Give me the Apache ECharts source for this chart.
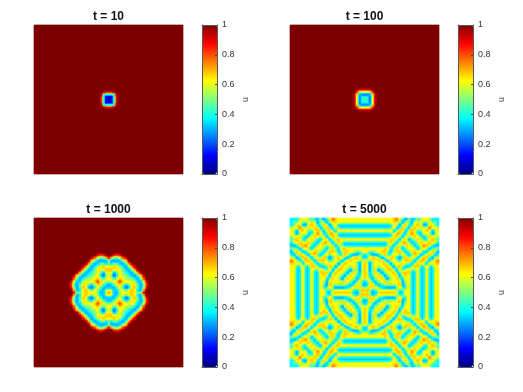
<!DOCTYPE html>
<html><head><meta charset="utf-8">
<style>html,body{margin:0;padding:0;background:#fff}#c{width:523px;height:392px}</style>
<script src="https://cdn.jsdelivr.net/npm/echarts@6/dist/echarts.min.js"></script>
</head><body><div id="c"></div>
<script>
// Field values: one character per cell, a base-36 index into uLevels.
// Each panel has four-fold mirror symmetry, so one triangle of cells is listed.
const titles = ['t = 10', 't = 100', 't = 1000', 't = 5000'];
const colorbarName = 'u';
const jet = ['#00007f','#0000ff','#007fff','#00ffff','#7fff7f','#ffff00','#ff7f00','#ff0000','#7f0000'];
const uLevels = [0,.04,.08,.14,.2,.26,.31,.34,.37,.41,.45,.49,.53,.62,.67,.74,.8,.86,.91,.95,1];

// rows counted outward from the centre of the panel
const fieldT10 = ['2238ei','238ei','38fj','agj','hk'];
const fieldT100 = ['a9758dhj','9758dhj','758dhj','69ehj','cfik','hj','k'];
const fieldT1000 = [
'fda7668bddddddeeedcbbcfik',
'da7679cddcccdeeedb867bfik',
'8668acdca88bdeedb866aehj',
'68acdca7557bdeeca768cfi',
'abddca7557bdeeda767behj',
'deedca88acdedca767behj',
'efeddccddedca8768cehj',
'gfedddddddca767adgi',
'fedddcccca8668cfhj',
'ddcccbba8668begi',
'dcbba98667adfhj',
'ca987667acegi',
'987667acegi',
'7668bdfhj',
'68bdfhj',
'bdfhj',
'fhj',
'ij'
];
// rows counted inward from the corner of the panel
const fieldT5000 = [
'88888acdddddcaac867aa767acdeffeddddddddddddddddddd',
'8888acdddddcaac867aca767aceffeddddddddddddddddddd',
'aaacddcccddccdc868bda779cdeeedddddddddddddddddddd',
'ccddc978bddedda68cdda77acdddddccccccccccccccccc',
'dedc766adeeedc87adedc868cddca88888888888888888',
'eec878bdeeedca68cdedb77bdda766666666666666666',
'fedccdedddeeda78cdec968cdca88888888888888888',
'feddddccdeeec87adeec97acddccccccccccccccccc',
'eddca9acdeeec87adeedb78cdddddddddddddddddd',
'ddc977adeeedb77bdeeda8bdccccccccccccccccc',
'da77acdefedc87adefeddca88888888888888888',
'77acdeeeedda77adeeeda766666666666666666',
'acddeddccdda78cdeedca88888888888888888',
'ddddcb99cdeb78cdedddccccccccccccccccc',
'edcb977bdeda78cdeeeddddddddddddddddd',
'ca977acdeeda78cdeeddccccccccccccccc',
'977acdefedca78cdedca88888888888888',
'7acdeeedddc978cdda766666666666666',
'cddedcbbdec978cdca88888888888888',
'dddca88cdec978cddcccccccccccccc',
'dca87acdedb78cdeeddddddddddddd',
'c978bdeeda87adeeedddddddddddd',
'78bdeeedc978cdeeedddcca9acdd',
'cdeeddddc97adeeddcba8767acc',
'dcbcdddca8adedca876667ac98',
'878bdeddccddca7679bccdc86',
'669cdeeddc9768bddeeddc87',
'7acdeedc967acdeeeeeddcb',
'cdddc977acdeeddddcbbcd',
'ddc978bdeeddddca77ade',
'c968cdeeddddddc869de',
'68cdeedddddddc869de',
'cdeedddcccdec869de',
'eeddccaabdec869de',
'eddca768cec869de',
'dca7669cdc86ade',
'a768bdedc87ade',
'78bdedca77cde',
'cdeddca78cde',
'eddca768cde',
'dcc977bddc',
'ca77addca',
'769cdc97',
'9cdeb86',
'dedb76',
'edc87',
'edcb',
'eed',
'ee',
'd'
];
const DATA_N = 100, N = 149;
const cells = Array.from({length: N}, (_, i) => i);
const fold = i => { const d = Math.floor(i * DATA_N / N); return d < DATA_N / 2 ? d : DATA_N - 1 - d; };
function read(tri, a, b, fallback) {
  const lo = Math.min(a, b), hi = Math.max(a, b);
  const ch = tri[lo] && tri[lo][hi - lo];
  const n = ch === undefined ? NaN : parseInt(ch, 36);
  return uLevels[isNaN(n) ? fallback : Math.min(n, 20)];
}
function expand(tri, fromCentre, fallback) {
  const out = [];
  for (const y of cells) for (const x of cells) {
    const fx = fold(x), fy = fold(y);
    out.push([x, y, fromCentre ? read(tri, DATA_N/2-1-fx, DATA_N/2-1-fy, fallback) : read(tri, fx, fy, fallback)]);
  }
  return out;
}
const fields = [expand(fieldT10, true, 20), expand(fieldT100, true, 20), expand(fieldT1000, true, 20), expand(fieldT5000, false, 13)];
const px = [34, 290], cbx = [202, 458], py = [25, 218], S = 149, CW = 15;
const grid = [], xAxis = [], yAxis = [], series = [], visualMap = [], title = [];
const font = 'Liberation Sans';
const boxLine = {show: true, onZero: false, lineStyle: {color: '#5a5a5a', width: 1}};
for (let i = 0; i < 4; i++) {
  const L = px[i % 2], T = py[i >> 1];
  grid.push({left: L, top: T, width: S, height: S});
  xAxis.push({type: 'category', data: cells, gridIndex: i, show: false});
  yAxis.push({type: 'category', data: cells, gridIndex: i, inverse: true, show: false});
  series.push({type: 'heatmap', xAxisIndex: i, yAxisIndex: i, data: fields[i], silent: true, progressive: 0, animation: false, emphasis: {disabled: true}});
  visualMap.push({type: 'continuous', seriesIndex: i, min: 0, max: 1, show: true, calculable: false, hoverLink: false, realtime: false,
    left: cbx[i % 2], top: T, itemWidth: CW, itemHeight: S, padding: 0, text: ['', ''], textGap: 0, inRange: {color: jet}});
  title.push({text: titles[i], left: L + S / 2, top: T - 15, textAlign: 'center', padding: 0,
    textStyle: {fontFamily: font, fontSize: 12, fontWeight: 'bold', color: '#111', lineHeight: 13}});
}
for (let i = 0; i < 4; i++) {
  const g = grid.length, T = py[i >> 1];
  grid.push({left: cbx[i % 2], top: T, width: CW, height: S, z: 20});
  const xBase = {type: 'value', gridIndex: g, min: 0, max: 1, z: 20, axisTick: {show: false}, axisLabel: {show: false}, splitLine: {show: false}, axisLine: boxLine};
  xAxis.push(Object.assign({position: 'bottom'}, xBase));
  xAxis.push(Object.assign({position: 'top'}, xBase));
  const yBase = {type: 'value', gridIndex: g, min: 0, max: 1, interval: 0.2, z: 20, splitLine: {show: false}, axisLine: boxLine};
  yAxis.push(Object.assign({position: 'left', axisTick: {show: false}, axisLabel: {show: false}}, yBase));
  yAxis.push(Object.assign({position: 'right',
    axisTick: {show: true, inside: true, length: 2, lineStyle: {color: '#444'}},
    axisLabel: {show: true, margin: 5, fontFamily: font, fontSize: 9, color: '#333'},
    name: colorbarName, nameLocation: 'middle', nameRotate: 90, nameGap: 24,
    nameTextStyle: {fontFamily: font, fontSize: 9, color: '#333'}}, yBase));
}
const chart = echarts.init(document.getElementById('c'), null, {renderer: 'canvas'});
chart.setOption({animation: false, backgroundColor: '#fff', title, grid, xAxis, yAxis, visualMap, series});
</script></body></html>
